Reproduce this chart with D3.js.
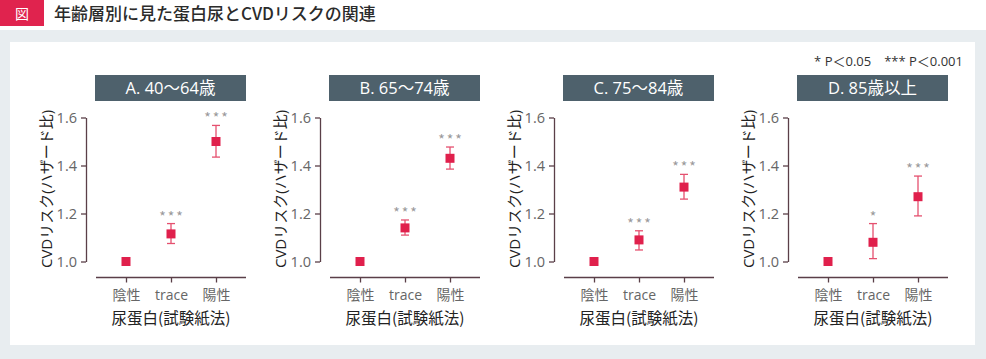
<!DOCTYPE html>
<html>
<head>
<meta charset="utf-8">
<script src="https://cdn.jsdelivr.net/npm/d3@7/dist/d3.min.js"></script>
<style>
  body { margin: 0; background: #fff; }
  svg { display: block; font-family: "Open Sans", "Noto Sans CJK JP", sans-serif; }
</style>
</head>
<body>
<script>
// chart data
var categories = ["陰性", "trace", "陽性"];
var panelTitles = ["A. 40〜64歳", "B. 65〜74歳", "C. 75〜84歳", "D. 85歳以上"];
var hazard = [
  [1.00, 1.115, 1.50],
  [1.00, 1.14, 1.43],
  [1.00, 1.09, 1.31],
  [1.00, 1.08, 1.27]
];
var ciLow = [
  [null, 1.075, 1.435],
  [null, 1.11, 1.385],
  [null, 1.048, 1.26],
  [null, 1.012, 1.19]
];
var ciHigh = [
  [null, 1.158, 1.567],
  [null, 1.173, 1.477],
  [null, 1.128, 1.363],
  [null, 1.158, 1.356]
];
var stars = [
  ["", "***", "***"],
  ["", "***", "***"],
  ["", "***", "***"],
  ["", "*", "***"]
];
var yTicks = [1.0, 1.2, 1.4, 1.6];

var width = 986, height = 359;

var svg = d3.select("body").append("svg")
  .attr("width", width)
  .attr("height", height);

// header
svg.append("rect").attr("x", 0).attr("y", 0).attr("width", 44).attr("height", 26).attr("fill", "#e0234e");
svg.append("text").attr("x", 22).attr("y", 18.5).attr("text-anchor", "middle")
  .attr("fill", "#fff").attr("font-size", 14).attr("font-family", "Noto Sans CJK JP").text("図");
svg.append("text").attr("x", 54).attr("y", 19.5)
  .attr("fill", "#2b2b2b").attr("font-size", 17).attr("font-weight", 500)
  .attr("font-family", "Noto Sans CJK JP")
  .text("年齢層別に見た蛋白尿とCVDリスクの関連");

// gray background + white panel
svg.append("rect").attr("x", 0).attr("y", 30).attr("width", width).attr("height", height - 30).attr("fill", "#e8edf0");
svg.append("rect").attr("x", 10).attr("y", 42).attr("width", 965).attr("height", 303).attr("fill", "#fff");

// legend
svg.append("text").attr("x", 963).attr("y", 66).attr("text-anchor", "end")
  .attr("fill", "#333").attr("font-size", 13)
  .text("* P＜0.05　*** P＜0.001");

var y = d3.scaleLinear().domain([1.0, 1.6]).range([261.5, 117.5]);

var axisColor = "#5a3f48";
var markColor = "#e0204c";
var barColor = "#e5506f";

panelTitles.forEach(function(title, i){
  var ax = 86 + i * 234;
  var g = svg.append("g").attr("transform", "translate(" + ax + ",0)");

  var x = d3.scalePoint().domain(categories).range([40, 130]);

  // panel title box
  g.append("rect").attr("x", 9).attr("y", 75).attr("width", 151).attr("height", 26).attr("fill", "#4e616c");
  g.append("text").attr("x", 84.5).attr("y", 94).attr("text-anchor", "middle")
    .attr("fill", "#fff").attr("font-size", 16.5).text(title);

  // y axis
  var yAxis = g.append("g").call(d3.axisLeft(y).tickValues(yTicks).tickFormat(d3.format(".1f")).tickSize(5).tickSizeOuter(0));
  yAxis.attr("font-family", null);
  yAxis.select(".domain").attr("stroke", axisColor).attr("stroke-width", 1.3);
  yAxis.selectAll(".tick line").attr("stroke", axisColor).attr("stroke-width", 1.3);
  yAxis.selectAll(".tick text").attr("fill", "#666").attr("font-size", 14.5).attr("x", -9);

  // y axis title
  g.append("text")
    .attr("transform", "translate(-40,189) rotate(-90)")
    .attr("text-anchor", "middle").attr("dominant-baseline", "central")
    .attr("fill", "#222").attr("font-size", 15)
    .text("CVDリスク(ハザード比)");

  // x axis
  var xAxis = g.append("g").attr("transform", "translate(0,277.5)")
    .call(d3.axisBottom(x).tickSize(5).tickSizeOuter(0).tickPadding(8));
  xAxis.attr("font-family", null);
  xAxis.select(".domain").attr("d", "M10,0H160").attr("stroke", axisColor).attr("stroke-width", 1.3);
  xAxis.selectAll(".tick line").attr("stroke", axisColor).attr("stroke-width", 1.3);
  xAxis.selectAll(".tick text").attr("fill", "#666").attr("font-size", 14);

  g.append("text").attr("x", 85).attr("y", 324).attr("text-anchor", "middle")
    .attr("fill", "#222").attr("font-size", 15.5).attr("font-family", "Noto Sans CJK JP")
    .text("尿蛋白(試験紙法)");

  // points
  var rows = categories.map(function(c, k){
    return { cat: c, v: hazard[i][k], lo: ciLow[i][k], hi: ciHigh[i][k], s: stars[i][k] };
  });
  var withCI = rows.filter(function(d){ return d.lo != null; });

  g.selectAll(".bar").data(withCI).enter().append("line")
    .attr("x1", function(d){ return x(d.cat); }).attr("x2", function(d){ return x(d.cat); })
    .attr("y1", function(d){ return y(d.lo); }).attr("y2", function(d){ return y(d.hi); })
    .attr("stroke", barColor).attr("stroke-width", 1.3);
  ["lo", "hi"].forEach(function(k){
    g.selectAll(".cap-" + k).data(withCI).enter().append("line")
      .attr("x1", function(d){ return x(d.cat) - 4; }).attr("x2", function(d){ return x(d.cat) + 4; })
      .attr("y1", function(d){ return y(d[k]); }).attr("y2", function(d){ return y(d[k]); })
      .attr("stroke", barColor).attr("stroke-width", 1.3);
  });

  g.selectAll(".pt").data(rows).enter().append("rect")
    .attr("x", function(d){ return x(d.cat) - 4.5; })
    .attr("y", function(d){ return y(d.v) - 4.5; })
    .attr("width", 9).attr("height", 9).attr("fill", markColor);

  g.selectAll(".star").data(withCI).enter().append("text")
    .attr("x", function(d){ return x(d.cat) + 1; })
    .attr("y", function(d){ return y(d.hi) - 2; })
    .attr("text-anchor", "middle").attr("fill", "#999").attr("font-size", 14)
    .attr("font-family", "Noto Sans CJK JP")
    .attr("letter-spacing", 2)
    .text(function(d){ return d.s; });
});
</script>
</body>
</html>
